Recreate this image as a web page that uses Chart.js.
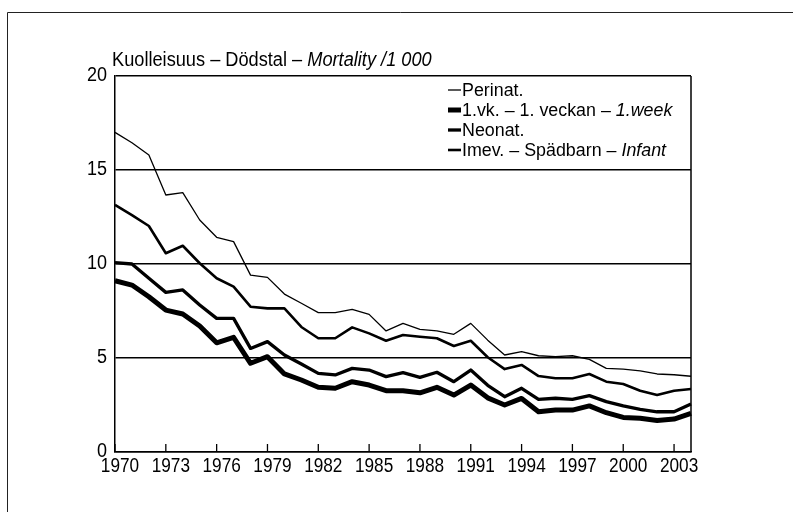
<!DOCTYPE html>
<html>
<head>
<meta charset="utf-8">
<title>Kuolleisuus – Dödstal – Mortality</title>
<script src="https://cdn.jsdelivr.net/npm/chart.js@4/dist/chart.umd.min.js"></script>
<style>
    html, body { margin: 0; padding: 0; background: #fff; }
    canvas { display: block; }
</style>
</head>
<body>
<canvas id="mortality-chart" width="793" height="512"></canvas>
<script>
// Years on the x axis (every 3rd one gets a label)
const years = [
    '1970', '1971', '1972', '1973', '1974', '1975', '1976', '1977', '1978', '1979',
    '1980', '1981', '1982', '1983', '1984', '1985', '1986', '1987', '1988', '1989',
    '1990', '1991', '1992', '1993', '1994', '1995', '1996', '1997', '1998', '1999',
    '2000', '2001', '2002', '2003', '2004'
];

// Mortality per 1 000
const perinat = [
    17.0, 16.45, 15.8, 13.67, 13.8, 12.34, 11.42, 11.19, 9.41, 9.29,
    8.4, 7.91, 7.41, 7.41, 7.59, 7.32, 6.44, 6.84, 6.52, 6.44,
    6.26, 6.84, 5.95, 5.16, 5.34, 5.12, 5.07, 5.12, 4.93, 4.45,
    4.41, 4.32, 4.15, 4.11, 4.03
];
const firstWeek = [
    9.11, 8.88, 8.26, 7.55, 7.34, 6.7, 5.81, 6.1, 4.72, 5.07,
    4.15, 3.83, 3.44, 3.39, 3.74, 3.56, 3.26, 3.26, 3.15, 3.44,
    3.03, 3.56, 2.88, 2.5, 2.85, 2.14, 2.23, 2.23, 2.45, 2.09,
    1.84, 1.8, 1.68, 1.75, 2.05
];
const neonat = [
    10.07, 10.0, 9.24, 8.49, 8.62, 7.82, 7.11, 7.11, 5.51, 5.87,
    5.16, 4.68, 4.18, 4.1, 4.45, 4.36, 4.01, 4.22, 3.97, 4.24,
    3.74, 4.36, 3.55, 2.94, 3.39, 2.8, 2.86, 2.8, 3.0, 2.68,
    2.45, 2.27, 2.14, 2.14, 2.55
];
const infant = [
    13.14, 12.6, 12.02, 10.57, 10.97, 10.04, 9.24, 8.8, 7.73, 7.64,
    7.64, 6.65, 6.05, 6.05, 6.63, 6.31, 5.92, 6.22, 6.13, 6.05,
    5.64, 5.92, 5.04, 4.41, 4.63, 4.04, 3.92, 3.92, 4.15, 3.74,
    3.62, 3.26, 3.03, 3.26, 3.35
];

// y axis ticks
const yTicks = [0, 5, 10, 15, 20];

// Texts: [plain part, italic part]
const titleParts = ['Kuolleisuus – Dödstal – ', 'Mortality /1 000'];
const legendParts = [
    ['Perinat.', ''],
    ['1.vk. – 1. veckan – ', '1.week'],
    ['Neonat.', ''],
    ['Imev. – Spädbarn – ', 'Infant']
];

(function() {
    'use strict';

    // No narrow font installed, so Liberation Sans is squeezed sideways
    const FONT = '"Liberation Sans", Arial, sans-serif';
    const widths = [1.3, 5, 3.3, 2.6];

    Chart.defaults.font.family = FONT;
    Chart.defaults.color = '#000';

    /**
     * Draw squeezed text; align is left / center / right
     */
    function text(ctx, str, x, y, size, squeeze, italic, align) {
        ctx.save();
        ctx.font = (italic ? 'italic ' : '') + size + 'px ' + FONT;
        ctx.textAlign = align || 'left';
        ctx.translate(x, y);
        ctx.scale(squeeze, 1);
        ctx.fillText(str, 0, 0);
        const w = ctx.measureText(str).width * squeeze;
        ctx.restore();
        return w;
    }

    /**
     * Draw a run of plain + italic text
     */
    function drawParts(ctx, parts, x, y, size, squeeze) {
        x += text(ctx, parts[0], x, y, size, squeeze, false);
        if (parts[1]) {
            text(ctx, parts[1], x, y, size, squeeze, true);
        }
    }

    // Frame, right border, inner ticks, tick labels, title and legend
    const decorations = {
        id: 'decorations',
        beforeDraw(chart) {
            const ctx = chart.ctx;
            ctx.save();
            ctx.fillStyle = '#fff';
            ctx.fillRect(0, 0, chart.width, chart.height);
            ctx.strokeStyle = '#222';
            ctx.lineWidth = 1;
            ctx.beginPath();
            ctx.moveTo(7.5, chart.height);
            ctx.lineTo(7.5, 12.5);
            ctx.lineTo(chart.width, 12.5);
            ctx.stroke();
            ctx.restore();
        },
        afterDraw(chart) {
            const ctx = chart.ctx;
            const area = chart.chartArea;
            const xs = chart.scales.x;
            const ys = chart.scales.y;
            ctx.save();
            ctx.strokeStyle = '#000';
            ctx.fillStyle = '#000';

            // right border
            ctx.lineWidth = 1.5;
            ctx.beginPath();
            ctx.moveTo(area.right, area.top);
            ctx.lineTo(area.right, area.bottom);
            ctx.stroke();

            // tick marks pointing into the plot, with year labels below
            ctx.lineWidth = 1.3;
            ctx.textBaseline = 'top';
            years.forEach((y, i) => {
                if (i % 3 !== 0) return;
                const px = xs.getPixelForValue(i);
                ctx.beginPath();
                ctx.moveTo(px, area.bottom);
                ctx.lineTo(px, area.bottom - 8);
                ctx.stroke();
                // labels sit a little right of their tick in the original
                text(ctx, y, px + 5, area.bottom + 4, 20.5, 0.84, false, 'center');
            });

            // y labels
            ctx.textBaseline = 'middle';
            yTicks.forEach(v => {
                text(ctx, String(v), area.left - 8, ys.getPixelForValue(v) - 1, 20, 0.9, false, 'right');
            });

            // title
            ctx.textBaseline = 'alphabetic';
            drawParts(ctx, titleParts, 112, 66, 20, 0.91);

            // legend
            ctx.textBaseline = 'middle';
            legendParts.forEach((parts, i) => {
                const ly = 90 + i * 20;
                ctx.lineWidth = widths[i];
                ctx.beginPath();
                ctx.moveTo(448, ly);
                ctx.lineTo(461, ly);
                ctx.stroke();
                drawParts(ctx, parts, 462, ly + 1, 17.5, 1.02);
            });
            ctx.restore();
        }
    };

    function series(data, width) {
        return {
            data: data,
            borderColor: '#000',
            borderWidth: width,
            pointRadius: 0,
            tension: 0,
            fill: false,
            borderJoinStyle: 'round'
        };
    }

    new Chart(document.getElementById('mortality-chart'), {
        type: 'line',
        data: {
            labels: years,
            datasets: [
                series(perinat, widths[0]),
                series(firstWeek, widths[1]),
                series(neonat, widths[2]),
                series(infant, widths[3])
            ]
        },
        options: {
            responsive: false,
            animation: false,
            layout: {
                padding: { left: 0, top: 76, right: 102, bottom: 0 }
            },
            plugins: {
                legend: { display: false },
                title: { display: false },
                tooltip: { enabled: false }
            },
            scales: {
                x: {
                    type: 'category',
                    offset: false,
                    grid: { display: false },
                    border: { display: true, color: '#000', width: 1.5 },
                    ticks: { display: false },
                    afterFit(scale) { scale.height = 60; }
                },
                y: {
                    min: 0,
                    max: 20,
                    afterBuildTicks(scale) {
                        scale.ticks = yTicks.map(v => ({ value: v }));
                    },
                    grid: { color: '#000', lineWidth: 1.5, drawTicks: false },
                    border: { display: true, color: '#000', width: 1.5 },
                    ticks: { display: false },
                    afterFit(scale) { scale.width = 115; }
                }
            }
        },
        plugins: [decorations]
    });
})();
</script>
</body>
</html>
